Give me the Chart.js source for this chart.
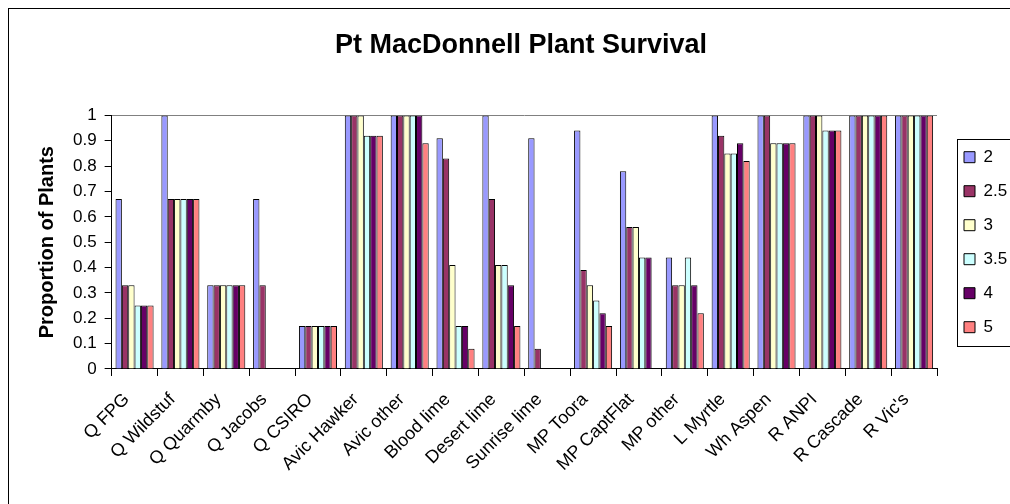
<!DOCTYPE html>
<html>
<head>
<meta charset="utf-8">
<script src="https://cdn.jsdelivr.net/npm/chart.js@4.4.1/dist/chart.umd.min.js"></script>
<style>
  body { margin: 0; background: #fff; }
  #wrap { width: 1010px; height: 504px; position: relative; }
</style>
</head>
<body>
<div id="wrap"><canvas id="survival"></canvas></div>
<script>
var categories = ['Q FPG', 'Q Wildstuf', 'Q Quarmby', 'Q Jacobs', 'Q CSIRO', 'Avic Hawker', 'Avic other',
  'Blood lime', 'Desert lime', 'Sunrise lime', 'MP Toora', 'MP CaptFlat', 'MP other', 'L Myrtle',
  'Wh Aspen', 'R ANPI', 'R Cascade', "R Vic's"];

var seriesNames = ['2', '2.5', '3', '3.5', '4', '5'];

var s2 = [0.67, 1, 0.33, 0.67, 0.17, 1, 1, 0.91, 1, 0.91, 0.94, 0.78, 0.44, 1, 1, 1, 1, 1];
var s2_5 = [0.33, 0.67, 0.33, 0.33, 0.17, 1, 1, 0.83, 0.67, 0.08, 0.39, 0.56, 0.33, 0.92, 1, 1, 1, 1];
var s3 = [0.33, 0.67, 0.33, 0, 0.17, 1, 1, 0.41, 0.41, 0, 0.33, 0.56, 0.33, 0.85, 0.89, 1, 1, 1];
var s3_5 = [0.25, 0.67, 0.33, 0, 0.17, 0.92, 1, 0.17, 0.41, 0, 0.27, 0.44, 0.44, 0.85, 0.89, 0.94, 1, 1];
var s4 = [0.25, 0.67, 0.33, 0, 0.17, 0.92, 1, 0.17, 0.33, 0, 0.22, 0.44, 0.33, 0.89, 0.89, 0.94, 1, 1];
var s5 = [0.25, 0.67, 0.33, 0, 0.17, 0.92, 0.89, 0.08, 0.17, 0, 0.17, 0, 0.22, 0.82, 0.89, 0.94, 1, 1];

var yTickLabels = ['0', '0.1', '0.2', '0.3', '0.4', '0.5', '0.6', '0.7', '0.8', '0.9', '1'];

var colors = ['#9999FF', '#993366', '#FFFFCC', '#CCFFFF', '#660066', '#FF8080'];
var allSeries = [s2, s2_5, s3, s3_5, s4, s5];

Chart.defaults.font.family = '"Liberation Sans", Arial, sans-serif';
Chart.defaults.color = '#000';

var datasets = allSeries.map(function (vals, i) {
  return {
    label: seriesNames[i],
    data: vals,
    backgroundColor: colors[i],
    borderColor: '#000',
    borderWidth: 1,
    categoryPercentage: 0.83,
    barPercentage: 1
  };
});

// outer frame + legend box, like the excel chart
var frames = {
  id: 'frames',
  afterDraw: function (chart) {
    var ctx = chart.ctx;
    ctx.save();
    ctx.strokeStyle = '#000';
    ctx.lineWidth = 1;
    ctx.strokeRect(8.5, 8.5, 1200, 700);
    var lg = chart.legend;
    if (lg && lg.legendHitBoxes.length) {
      var hb = lg.legendHitBoxes;
      var first = hb[0], last = hb[hb.length - 1];
      var top = Math.round(first.top + first.height / 2 - 18) + 0.5;
      var bottom = Math.round(last.top + last.height / 2 + 19) + 0.5;
      var left = Math.round(lg.left + 10) + 0.5;
      ctx.strokeRect(left, top, 200, bottom - top);
    }
    ctx.restore();
  }
};

new Chart(document.getElementById('survival'), {
  type: 'bar',
  data: { labels: categories, datasets: datasets },
  options: {
    responsive: true,
    maintainAspectRatio: false,
    animation: false,
    layout: { padding: { left: 35, right: 3, top: 8, bottom: 16 } },
    plugins: {
      title: {
        display: true,
        text: 'Pt MacDonnell Plant Survival',
        font: { size: 27, weight: 'bold' },
        color: '#000',
        padding: { top: 21, bottom: 54 }
      },
      legend: {
        position: 'right',
        fullSize: false,
        maxWidth: 60,
        labels: { boxWidth: 11, boxHeight: 11, padding: 17, font: { size: 17 }, color: '#000' }
      },
      tooltip: { enabled: false }
    },
    scales: {
      x: {
        grid: { drawOnChartArea: false, color: '#000', tickLength: 7, offset: true },
        border: { color: '#000', width: 1 },
        ticks: { autoSkip: false, minRotation: 45, maxRotation: 45, padding: 13, labelOffset: -8, font: { size: 18 }, color: '#000' }
      },
      y: {
        min: 0,
        max: 1,
        grid: {
          color: function (c) { return c.tick && c.tick.value === 1 ? '#808080' : 'rgba(0,0,0,0)'; },
          tickColor: '#000',
          tickLength: 7
        },
        border: { color: '#000', width: 1 },
        ticks: {
          stepSize: 0.1,
          padding: 8,
          font: { size: 17 },
          color: '#000',
          callback: function (v, i) { return yTickLabels[i]; }
        },
        title: {
          display: true,
          text: 'Proportion of Plants',
          font: { size: 20, weight: 'bold' },
          color: '#000',
          padding: { top: 0, bottom: 6 }
        }
      },
      gap: {
        type: 'linear',
        position: 'right',
        display: true,
        grid: { display: false },
        border: { display: false },
        ticks: { display: false },
        afterFit: function (s) { s.width = 10; }
      }
    }
  },
  plugins: [frames]
});
</script>
</body>
</html>
